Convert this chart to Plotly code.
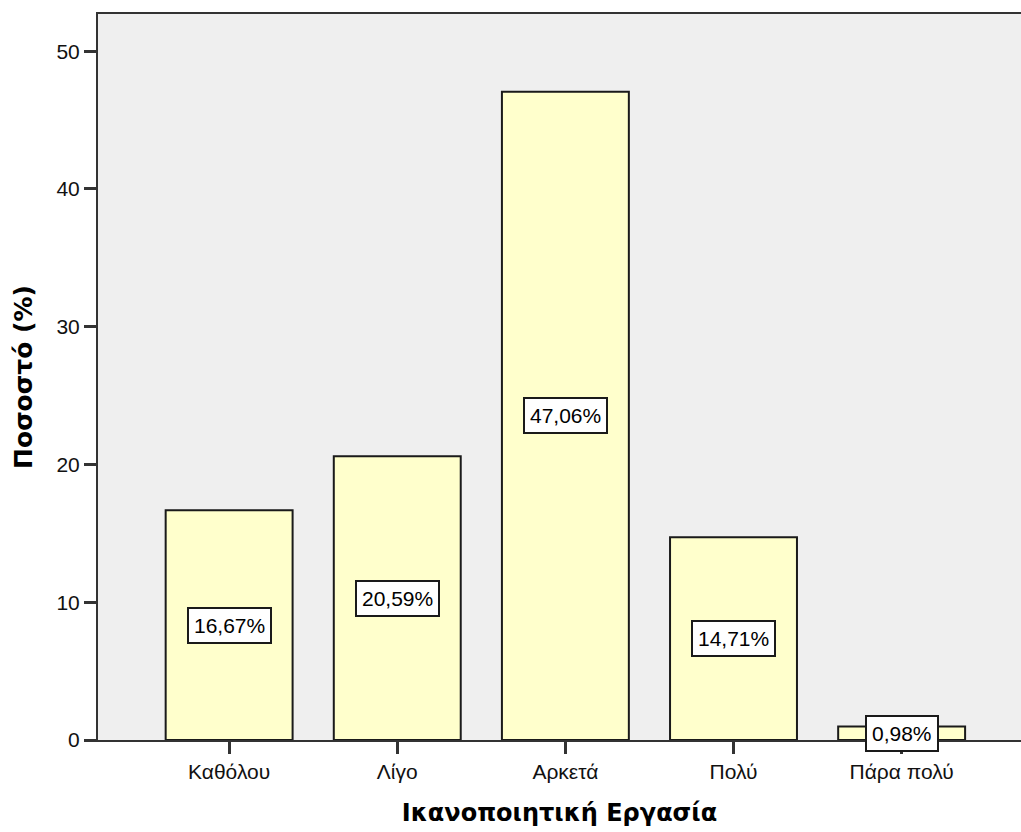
import plotly.graph_objects as go

categories = ["Καθόλου", "Λίγο", "Αρκετά", "Πολύ", "Πάρα πολύ"]
values = [16.67, 20.59, 47.06, 14.71, 0.98]
y_ticks = [0, 10, 20, 30, 40, 50]

FONT = "Liberation Sans"
TITLE_FONT = "DejaVu Sans"

fig = go.Figure()
fig.add_trace(go.Bar(
    x=list(range(len(categories))),
    y=values,
    width=0.755,
    marker=dict(color="#FFFFCC", line=dict(color="#1a1a1a", width=2)),
    hoverinfo="skip",
))

for i, v in enumerate(values):
    fig.add_annotation(
        x=i, y=v / 2, xref="x", yref="y",
        text=f"{v:.2f}%".replace(".", ","),
        showarrow=False,
        font=dict(family=FONT, size=21, color="#000"),
        bgcolor="white", bordercolor="#1a1a1a", borderwidth=2, borderpad=5,
    )

fig.update_layout(
    width=1021, height=832,
    margin=dict(l=98, r=0, t=14, b=92),
    paper_bgcolor="white",
    plot_bgcolor="#EFEFEF",
    showlegend=False,
    font=dict(family=FONT, size=21, color="#111"),
    xaxis=dict(
        tickmode="array",
        tickvals=list(range(len(categories))),
        ticktext=categories,
        range=[-0.78, 4.71],
        showline=True, linecolor="#333", linewidth=2, mirror=True,
        ticks="outside", ticklen=12, tickcolor="#333", tickwidth=3,
        showgrid=False, zeroline=False,
        tickfont=dict(family=FONT, size=21),
        title=dict(text="<b>Ικανοποιητική Εργασία</b>", font=dict(family=TITLE_FONT, size=24, color="#000"), standoff=22),
    ),
    yaxis=dict(
        tickmode="array",
        tickvals=y_ticks,
        range=[0, 52.7],
        showline=True, linecolor="#333", linewidth=2,
        ticks="outside", ticklen=12, tickcolor="#333", tickwidth=3,
        showgrid=False, zeroline=False,
        tickfont=dict(family=FONT, size=21),
        title=dict(text="<b>Ποσοστό (%)</b>", font=dict(family=TITLE_FONT, size=25, color="#000"), standoff=17),
    ),
)

fig.write_html("out.html")
